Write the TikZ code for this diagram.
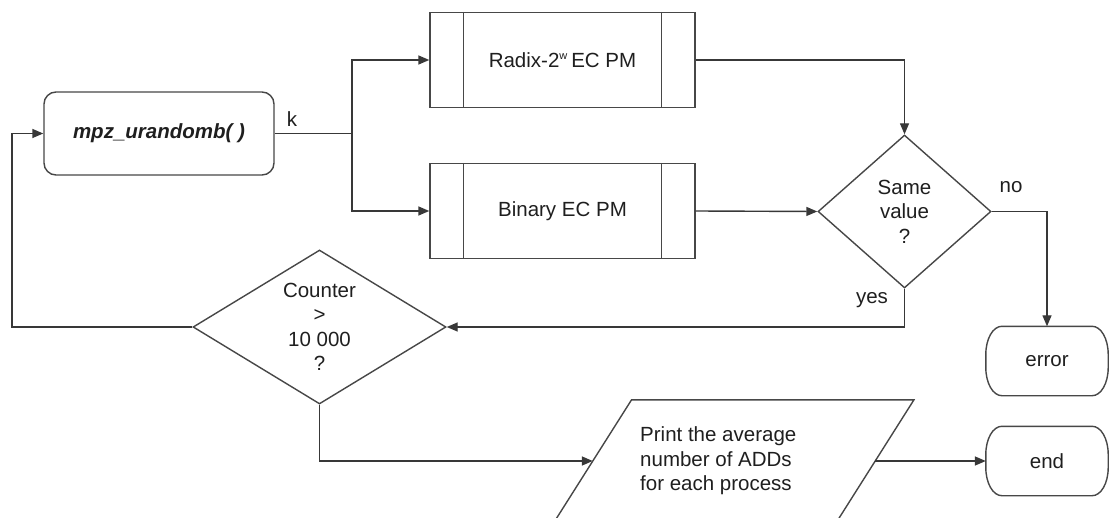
\documentclass[tikz,border=0pt]{standalone}
\usepackage{fontspec}
\setmainfont{Liberation Sans}
\usetikzlibrary{arrows.meta,shapes.geometric}

\begin{document}
\begin{tikzpicture}[x=1pt,y=-1pt,
  every node/.style={font=\fontsize{20.5}{24.5}\selectfont, text=black!88},
  line/.style={draw=black!78, line width=1.4pt},
  flow/.style={line, -{Triangle[length=11pt,width=9pt]}},
  outline/.style={draw=black!72, line width=1.4pt},
  startbox/.style={outline, rectangle, rounded corners=12pt,
    minimum width=230pt, minimum height=83pt, inner sep=0pt},
  procbox/.style={outline, rectangle, minimum width=265pt,
    minimum height=95pt, inner sep=0pt},
  decision/.style={outline, diamond, inner sep=0pt, align=center},
  terminal/.style={rectangle, minimum width=122pt, minimum height=69pt, inner sep=0pt},
  lbl/.style={inner sep=0pt}
]
\clip (0,0) rectangle (1110,518);
\fill[white] (0,0) rectangle (1110,518);

% start: random scalar
\node[startbox] (rand) at (159,133.5) {\textbf{\textit{mpz\_urandomb( )}}};

% the two scalar multiplications
\node[procbox] (radix) at (562.5,60) {Radix-2\textsuperscript{\fontsize{11}{11}\selectfont w}\,EC PM};
\node[procbox] (binary) at (562.5,211) {Binary EC PM};
\foreach \n in {radix,binary} {
  \draw[outline] ([xshift=34pt]\n.north west) -- ([xshift=34pt]\n.south west);
  \draw[outline] ([xshift=-34pt]\n.north east) -- ([xshift=-34pt]\n.south east);
}

% decisions
\node[decision, minimum width=173pt, minimum height=153pt, aspect=1.13]
  (same) at (904.5,211.5) {Same\\value\\?};
\node[decision, minimum width=253pt, minimum height=154pt, aspect=1.64]
  (counter) at (319.5,327) {Counter\\>\\10 000\\?};

% terminals: flat top and bottom, sides with elliptic corners
\node[terminal] (error) at (1047,361) {error};
\node[terminal] (end) at (1047,461) {end};
\foreach \n in {error,end} {
  \draw[outline] ([xshift=16pt]\n.north west) -- ([xshift=-16pt]\n.north east)
    arc[start angle=90, end angle=0, x radius=16pt, y radius=28pt]
    -- ([yshift=28pt]\n.south east)
    arc[start angle=0, end angle=-90, x radius=16pt, y radius=28pt]
    -- ([xshift=16pt]\n.south west)
    arc[start angle=270, end angle=180, x radius=16pt, y radius=28pt]
    -- ([yshift=-28pt]\n.north west)
    arc[start angle=180, end angle=90, x radius=16pt, y radius=28pt] -- cycle;
}

% output parallelogram
\node[inner sep=0pt, minimum width=282pt, minimum height=122pt] (print) at (734,461) {};
\draw[outline] ([xshift=38.75pt]print.north west) -- ([xshift=38.75pt]print.north east)
  -- ([xshift=-38.75pt]print.south east) -- ([xshift=-38.75pt]print.south west) -- cycle;
\node[align=left, anchor=west, inner sep=0pt] (printtext) at (640,461)
  {Print the average\\number of ADDs\\for each process};

% connectors
\coordinate (split) at (352,133.5);
\coordinate (loop) at (12,327);
\draw[line] (rand.east) -- (split);
\draw[flow] (split) |- (radix.west);
\draw[flow] (split) |- (binary.west);
\draw[flow] (radix.east) -| (same.north);
\draw[flow] (binary.east) -- (same.west);
\draw[flow] (same.east) -| (error.north);
\draw[flow] (same.south) |- (counter.east);
\draw[flow] (counter.west) -- (loop) |- (rand.west);
\draw[flow] (counter.south) |- (print.west);
\draw[flow] (print.east) -- (end.west);

% labels
\node[lbl] (klbl) at (292,119) {k};
\node[lbl] (nolbl) at (1011,187) {no};
\node[lbl] (yeslbl) at (872,300) {yes};
\end{tikzpicture}
\end{document}
